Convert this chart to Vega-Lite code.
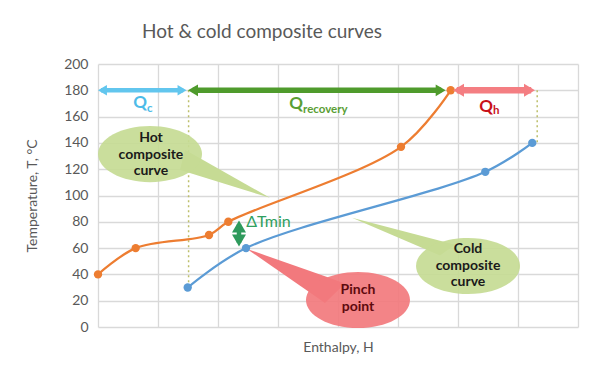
{
  "$schema": "https://vega.github.io/schema/vega-lite/v6.json",
  "width": 480,
  "height": 263,
  "autosize": {"type": "none"},
  "padding": {"left": 98, "top": 64, "right": 22, "bottom": 46},
  "background": "white",
  "config": {"font": "Lato", "view": {"stroke": null}},
  "title": {
    "text": "Hot & cold composite curves",
    "font": "Lato",
    "fontSize": 19,
    "fontWeight": "normal",
    "color": "#595959",
    "anchor": "middle",
    "frame": "group",
    "dx": -76,
    "dy": 19,
    "baseline": "alphabetic",
    "offset": 19
  },
  "resolve": {"scale": {"color": "independent", "size": "independent", "shape": "independent", "strokeWidth": "independent"}},
  "datasets": {
    "hot": [
      {"H": 0, "T": 40}, {"H": 0.628, "T": 60}, {"H": 1.85, "T": 70},
      {"H": 2.172, "T": 80}, {"H": 5.05, "T": 137}, {"H": 5.878, "T": 180}
    ],
    "cold": [
      {"H": 1.495, "T": 30}, {"H": 2.467, "T": 60}, {"H": 6.455, "T": 118}, {"H": 7.238, "T": 140}
    ],
    "dotted": [
      {"H": 1.51, "T": 180, "T2": 30},
      {"H": 7.32, "T": 180, "T2": 140}
    ],
    "tails": [
      {"callout": "hot", "H": 1.367, "T": 119.5, "T2": 119.5},
      {"callout": "hot", "H": 1.45, "T": 134.8, "T2": 118.3},
      {"callout": "hot", "H": 2.867, "T": 98.2, "T2": 98.2},
      {"callout": "cold", "H": 4.233, "T": 83.0, "T2": 83.0},
      {"callout": "cold", "H": 5.7, "T": 65.6, "T2": 54.4},
      {"callout": "cold", "H": 5.95, "T": 62.6, "T2": 62.6},
      {"callout": "pinch", "H": 2.483, "T": 59.4, "T2": 59.4},
      {"callout": "pinch", "H": 3.783, "T": 38.5, "T2": 18.3},
      {"callout": "pinch", "H": 4.117, "T": 33.1, "T2": 33.1}
    ],
    "callouts": [
      {"callout": "hot", "H": 0.867, "T": 131.5, "HL": 0.883, "TL": 143.9, "label": "Hot\ncomposite\ncurve"},
      {"callout": "cold", "H": 6.167, "T": 46.4, "HL": 6.167, "TL": 59.4, "label": "Cold\ncomposite\ncurve"},
      {"callout": "pinch", "H": 4.333, "T": 20.5, "HL": 4.333, "TL": 28.2, "label": "Pinch\npoint"}
    ],
    "shafts": [
      {"arrow": "c", "H": 0.05, "H2": 1.42, "T": 180},
      {"arrow": "g", "H": 1.58, "H2": 5.72, "T": 180},
      {"arrow": "r", "H": 5.98, "H2": 7.22, "T": 180}
    ],
    "heads": [
      {"arrow": "c", "dir": "left", "H": 0, "T": 180},
      {"arrow": "c", "dir": "right", "H": 1.475, "T": 180},
      {"arrow": "g", "dir": "left", "H": 1.5, "T": 180},
      {"arrow": "g", "dir": "right", "H": 5.795, "T": 180},
      {"arrow": "r", "dir": "left", "H": 5.917, "T": 180},
      {"arrow": "r", "dir": "right", "H": 7.283, "T": 180},
      {"arrow": "d", "dir": "up", "H": 2.35, "T": 81},
      {"arrow": "d", "dir": "down", "H": 2.35, "T": 61.3}
    ],
    "dshaft": [
      {"H": 2.35, "T": 78, "T2": 64}
    ],
    "qlabels": [
      {"t": "Q", "H": 0.817, "T": 170.3, "g": "c", "part": "main"},
      {"t": "c", "H": 0.817, "T": 165.7, "g": "c", "part": "sub"},
      {"t": "Q", "H": 3.417, "T": 169.3, "g": "g", "part": "main"},
      {"t": "recovery", "H": 3.417, "T": 164.7, "g": "g", "part": "sub"},
      {"t": "Q", "H": 6.583, "T": 167.5, "g": "r", "part": "main"},
      {"t": "h", "H": 6.583, "T": 164.0, "g": "r", "part": "sub"}
    ],
    "dtlabel": [
      {"t": "ΔTmin", "H": 2.47, "T": 80.2}
    ]
  },
  "encoding": {
    "x": {
      "field": "H",
      "type": "quantitative",
      "scale": {"domain": [0, 8], "nice": false, "zero": false},
      "axis": {
        "title": "Enthalpy, H",
        "values": [0, 1, 2, 3, 4, 5, 6, 7, 8],
        "labels": false,
        "ticks": false,
        "domain": false,
        "grid": true,
        "gridColor": "#D9D9D9",
        "gridWidth": 1.3,
        "titleFont": "Lato",
        "titleFontSize": 14,
        "titleFontWeight": "normal",
        "titleColor": "#595959",
        "titleY": 20,
        "titleBaseline": "middle"
      }
    },
    "y": {
      "field": "T",
      "type": "quantitative",
      "scale": {"domain": [0, 200], "nice": false},
      "axis": {
        "title": "Temperature, T, °C",
        "values": [0, 20, 40, 60, 80, 100, 120, 140, 160, 180, 200],
        "ticks": false,
        "domain": false,
        "grid": true,
        "gridColor": "#D9D9D9",
        "gridWidth": 1.3,
        "labelFont": "Lato",
        "labelFontSize": 14,
        "labelColor": "#595959",
        "labelPadding": 10,
        "titleFont": "Lato",
        "titleFontSize": 14,
        "titleFontWeight": "normal",
        "titleColor": "#595959",
        "titleX": -66,
        "titleY": 131.5,
        "titleAngle": -90,
        "titleAlign": "center",
        "titleBaseline": "middle"
      }
    }
  },
  "layer": [
    {
      "data": {"name": "dotted"},
      "mark": {"type": "rule", "color": "#BDBF6B", "strokeWidth": 1.5, "strokeDash": [2, 3]},
      "encoding": {"y2": {"field": "T2"}}
    },
    {
      "data": {"name": "tails"},
      "mark": {"type": "area", "opacity": 1, "interpolate": "linear"},
      "encoding": {
        "y2": {"field": "T2"},
        "color": {
          "field": "callout", "type": "nominal", "legend": null,
          "scale": {"domain": ["hot", "cold", "pinch"], "range": ["#C6DB94", "#C6DB94", "#F2797D"]}
        },
        "detail": {"field": "callout"}
      }
    },
    {
      "data": {"name": "callouts"},
      "mark": {
        "type": "point", "filled": true, "opacity": 0.92, "size": 10816,
        "shape": "M-1,0C-1,-0.298,-0.552,-0.54,0,-0.54C0.552,-0.54,1,-0.298,1,0C1,0.298,0.552,0.54,0,0.54C-0.552,0.54,-1,0.298,-1,0Z"
      },
      "encoding": {
        "color": {
          "field": "callout", "type": "nominal", "legend": null,
          "scale": {"domain": ["hot", "cold", "pinch"], "range": ["#C6DB94", "#C6DB94", "#F2797D"]}
        }
      }
    },
    {
      "data": {"name": "callouts"},
      "mark": {"type": "text", "font": "Lato", "fontSize": 14, "fontWeight": "bold", "lineBreak": "\n", "lineHeight": 16.8, "align": "center", "baseline": "middle"},
      "encoding": {
        "x": {"field": "HL", "type": "quantitative"},
        "y": {"field": "TL", "type": "quantitative"},
        "text": {"field": "label"},
        "color": {
          "field": "callout", "type": "nominal", "legend": null,
          "scale": {"domain": ["hot", "cold", "pinch"], "range": ["#1A1A1A", "#1A1A1A", "#5E0A0E"]}
        }
      }
    },
    {
      "data": {"name": "cold"},
      "mark": {"type": "line", "color": "#5B9BD5", "strokeWidth": 2.25, "interpolate": "catmull-rom",
               "point": {"filled": true, "size": 70, "opacity": 1, "color": "#5B9BD5"}}
    },
    {
      "data": {"name": "hot"},
      "mark": {"type": "line", "color": "#ED7D31", "strokeWidth": 2.25, "interpolate": "catmull-rom",
               "point": {"filled": true, "size": 70, "opacity": 1, "color": "#ED7D31"}}
    },
    {
      "data": {"name": "shafts"},
      "mark": {"type": "rule"},
      "encoding": {
        "x2": {"field": "H2"},
        "color": {
          "field": "arrow", "type": "nominal", "legend": null,
          "scale": {"domain": ["c", "g", "r"], "range": ["#62C6EE", "#4F9B2C", "#F47E82"]}
        },
        "strokeWidth": {
          "field": "arrow", "type": "ordinal", "legend": null,
          "scale": {"domain": ["c", "g", "r"], "range": [4.5, 6.5, 5.5]}
        }
      }
    },
    {
      "data": {"name": "dshaft"},
      "mark": {"type": "rule", "color": "#2E9A5C", "strokeWidth": 4.5},
      "encoding": {"y2": {"field": "T2"}}
    },
    {
      "data": {"name": "heads"},
      "mark": {"type": "point", "filled": true, "opacity": 1},
      "encoding": {
        "shape": {
          "field": "dir", "type": "nominal", "legend": null,
          "scale": {"domain": ["left", "right", "up", "down"],
                    "range": ["M0,0L1.7,-1L1.7,1Z", "M0,0L-1.7,-1L-1.7,1Z", "M0,0L-1,1.7L1,1.7Z", "M0,0L-1,-1.7L1,-1.7Z"]}
        },
        "color": {
          "field": "arrow", "type": "nominal", "legend": null,
          "scale": {"domain": ["c", "g", "r", "d"], "range": ["#62C6EE", "#4F9B2C", "#F47E82", "#2E9A5C"]}
        },
        "size": {
          "field": "arrow", "type": "ordinal", "legend": null,
          "scale": {"domain": ["c", "g", "r", "d"], "range": [110, 196, 130, 110]}
        }
      }
    },
    {
      "data": {"name": "qlabels"},
      "transform": [{"filter": "datum.part === 'main'"}],
      "mark": {"type": "text", "font": "Lato", "fontSize": 17, "fontWeight": "bold", "align": "right", "baseline": "middle"},
      "encoding": {
        "text": {"field": "t"},
        "color": {
          "field": "g", "type": "nominal", "legend": null,
          "scale": {"domain": ["c", "g", "r"], "range": ["#4DBBE8", "#5A9E34", "#C8101A"]}
        }
      }
    },
    {
      "data": {"name": "qlabels"},
      "transform": [{"filter": "datum.part === 'sub'"}],
      "mark": {"type": "text", "font": "Lato", "fontSize": 11.5, "fontWeight": "bold", "align": "left", "baseline": "middle"},
      "encoding": {
        "text": {"field": "t"},
        "color": {
          "field": "g", "type": "nominal", "legend": null,
          "scale": {"domain": ["c", "g", "r"], "range": ["#4DBBE8", "#5A9E34", "#C8101A"]}
        }
      }
    },
    {
      "data": {"name": "dtlabel"},
      "mark": {"type": "text", "font": "Lato", "fontSize": 16, "align": "left", "baseline": "middle", "color": "#2FA05E"},
      "encoding": {"text": {"field": "t"}}
    }
  ]
}
